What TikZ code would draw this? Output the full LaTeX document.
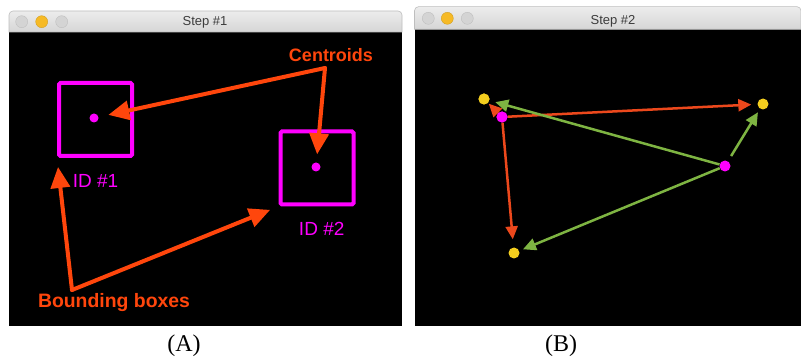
\documentclass[tikz,border=0pt]{standalone}
\usepackage{fontspec}
\setmainfont{Liberation Serif}
\setsansfont{Liberation Sans}
\usetikzlibrary{arrows.meta}
\definecolor{orng}{RGB}{255,70,12}
\definecolor{mag}{RGB}{255,0,255}
\definecolor{redB}{RGB}{236,72,28}
\definecolor{grnB}{RGB}{126,180,66}
\definecolor{yelB}{RGB}{244,206,30}
\definecolor{barTop}{RGB}{236,236,236}
\definecolor{barBot}{RGB}{214,214,214}
\definecolor{barLine}{RGB}{190,190,190}
\definecolor{btnGrey}{RGB}{212,212,212}
\definecolor{btnYel}{RGB}{246,186,38}
\definecolor{titleTxt}{RGB}{60,60,60}
\tikzset{
  winbody/.style={fill=black},
  winbar/.style={top color=barTop,bottom color=barBot,draw=barLine,line width=0.6pt},
  btn/.style={circle,inner sep=0pt,minimum size=12pt,fill=btnGrey,draw=barLine,line width=0.4pt},
  btny/.style={btn,fill=btnYel,draw=btnYel!85!black},
  wtitle/.style={font=\sffamily\fontsize{13}{14}\selectfont,text=titleTxt,anchor=base,inner sep=0pt},
  bbox/.style={draw=mag,line width=4pt,minimum size=73pt,inner sep=0pt,rounded corners=1.5pt},
  cdot/.style={circle,fill=mag,inner sep=0pt,minimum size=9pt},
  idlabel/.style={font=\sffamily\fontsize{19}{21}\selectfont,text=mag,anchor=base,inner sep=0pt},
  olabel/.style={font=\sffamily\bfseries\fontsize{19.4}{21}\selectfont,text=orng,anchor=base,inner sep=0pt},
  oarrow/.style={draw=orng,line width=4pt,line cap=round,-{Triangle[length=21pt,width=19pt]}},
  ydot/.style={circle,fill=yelB,inner sep=0pt,minimum size=11pt},
  mdot/.style={circle,fill=mag,inner sep=0pt,minimum size=11pt},
  rarrow/.style={draw=redB,line width=2.5pt,-{Triangle[length=13pt,width=12pt]}},
  garrow/.style={draw=grnB,line width=2.5pt,-{Triangle[length=13pt,width=12pt]}},
  caption/.style={font=\fontsize{24}{26}\selectfont,anchor=base,inner sep=0pt}
}
\begin{document}
\begin{tikzpicture}[x=1pt,y=-1pt]
\useasboundingbox[fill=white] (0,0) rectangle (801,358);
% ---------- window A ----------
\fill[winbody] (9,32) rectangle (402,326);
\shade[winbar] (9,32) [rounded corners=4pt] -- (9,11) -- (402,11) [sharp corners] -- (402,32) -- cycle;
\node[btn]  (a1) at (21.7,21.7) {};
\node[btny] (a2) at (41.7,21.7) {};
\node[btn]  (a3) at (61.7,21.7) {};
\node[wtitle] (ta) at (205,26) {Step \#1};
% boxes and centroids
\node[bbox] (b1) at (95.5,119.5) {};
\node[cdot] (d1) at (94,118) {};
\node[bbox] (b2) at (317,168) {};
\node[cdot] (d2) at (316,167) {};
\node[idlabel] (id1) at (95.5,188) {ID \#1};
\node[idlabel] (id2) at (321.7,236) {ID \#2};
% labels
\node[olabel,font=\sffamily\bfseries\fontsize{18}{20}\selectfont] (cen) at (331,62) {Centroids};
\coordinate (cf) at (325,68);
\node[olabel] (bb) at (114,308) {Bounding boxes};
\coordinate (bf) at (72,290);
\draw[oarrow,shorten >=10pt] (cf) -- (d1);
\draw[oarrow,shorten >=8pt] (cf) -- (d2);
\draw[oarrow,shorten >=9pt] (bf) -- (b1.south west);
\draw[oarrow,shorten >=9pt] (bf) -- (b2.south west);
% ---------- window B ----------
\fill[winbody] (414.5,29.3) rectangle (801,326);
\shade[winbar] (414.5,29.3) [rounded corners=4pt] -- (414.5,6.7) -- (801,6.7) [sharp corners] -- (801,29.3) -- cycle;
\node[btn]  (b21) at (428.3,18.3) {};
\node[btny] (b22) at (447.3,18.3) {};
\node[btn]  (b23) at (467.3,18.3) {};
\node[wtitle] (tb) at (613,25) {Step \#2};
\node[ydot] (y1) at (484,99) {};
\node[ydot] (y2) at (763,104) {};
\node[ydot] (y3) at (514,253) {};
\node[mdot] (m1) at (502,117) {};
\node[mdot] (m2) at (725,166) {};
\draw[rarrow,shorten >=1pt] (m1) -- (y1);
\draw[rarrow,shorten >=6pt] (m1) -- (y2);
\draw[rarrow,shorten >=8pt] (m1) -- (y3);
\draw[garrow,shorten >=6pt] (m2) -- (y1);
\draw[garrow,shorten <=6pt,shorten >=4pt] (m2) -- (y2);
\draw[garrow,shorten >=4pt] (m2) -- (y3);
\node[ydot] at (y1) {};
\node[mdot] at (m1) {};
% ---------- captions ----------
\node[caption] (capA) at (184,351) {(A)};
\node[caption] (capB) at (561,351) {(B)};
\end{tikzpicture}
\end{document}
